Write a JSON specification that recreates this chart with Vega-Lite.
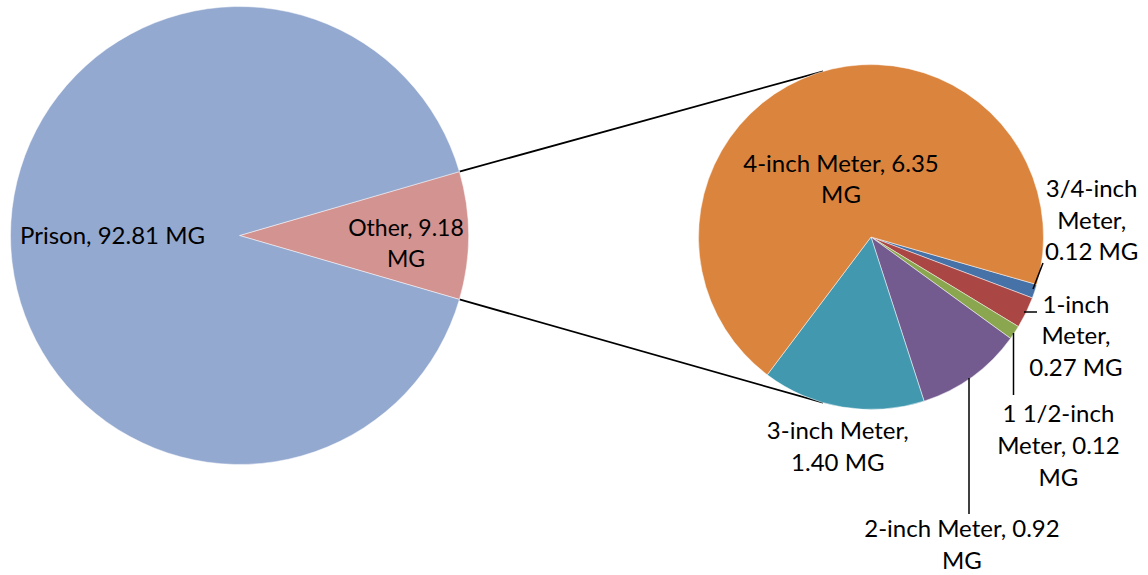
{
  "$schema": "https://vega.github.io/schema/vega-lite/v6.json",
  "width": 1148,
  "height": 575,
  "padding": 0,
  "autosize": {"type": "none"},
  "background": "white",
  "view": {"stroke": null},
  "params": [
    {"name": "cxL", "value": 239.5},
    {"name": "cyL", "value": 235.5},
    {"name": "rL", "value": 229},
    {"name": "cxR", "value": 871},
    {"name": "cyR", "value": 237},
    {"name": "rR", "value": 172.5},
    {"name": "half", "value": 0.2827},
    {"name": "rot", "value": 0.281}
  ],
  "datasets": {
    "main": [
      {"k": "Other", "v": 9.18, "rank": 1, "label": "Other, 9.18\nMG"},
      {"k": "Prison", "v": 92.81, "rank": 2, "label": "Prison, 92.81 MG"}
    ],
    "sub": [
      {"k": "3/4-inch Meter", "v": 0.12, "rank": 1, "label": "3/4-inch\nMeter,\n0.12 MG"},
      {"k": "1-inch Meter", "v": 0.27, "rank": 2, "label": "1-inch\nMeter,\n0.27 MG"},
      {"k": "1 1/2-inch Meter", "v": 0.12, "rank": 3, "label": "1 1/2-inch\nMeter, 0.12\nMG"},
      {"k": "2-inch Meter", "v": 0.92, "rank": 4, "label": "2-inch Meter, 0.92\nMG"},
      {"k": "3-inch Meter", "v": 1.40, "rank": 5, "label": "3-inch Meter,\n1.40 MG"},
      {"k": "4-inch Meter", "v": 6.35, "rank": 6, "label": "4-inch Meter, 6.35\nMG"}
    ]
  },
  "resolve": {"scale": {"theta": "independent"}},
  "layer": [
    {
      "data": {"values": [{}]},
      "mark": {"type": "rule", "color": "black", "strokeWidth": 1.8},
      "encoding": {
        "x": {"value": {"expr": "cxL + rL*cos(half)"}}, "y": {"value": {"expr": "cyL - rL*sin(half)"}},
        "x2": {"value": {"expr": "cxR - rR*sin(rot)"}}, "y2": {"value": {"expr": "cyR - rR*cos(rot)"}}
      }
    },
    {
      "data": {"values": [{}]},
      "mark": {"type": "rule", "color": "black", "strokeWidth": 1.8},
      "encoding": {
        "x": {"value": {"expr": "cxL + rL*cos(half)"}}, "y": {"value": {"expr": "cyL + rL*sin(half)"}},
        "x2": {"value": {"expr": "cxR - rR*sin(rot)"}}, "y2": {"value": {"expr": "cyR + rR*cos(rot)"}}
      }
    },
    {
      "data": {"name": "main"},
      "mark": {"type": "arc", "x": {"expr": "cxL"}, "y": {"expr": "cyL"}, "outerRadius": {"expr": "rL"}, "stroke": "white", "strokeWidth": 0.7, "strokeOpacity": 0.7},
      "encoding": {
        "theta": {"field": "v", "type": "quantitative", "stack": true, "scale": {"range": [1.2881, 7.5713]}},
        "order": {"field": "rank"},
        "color": {"field": "k", "type": "nominal", "legend": null,
          "scale": {"domain": ["Prison", "Other", "3/4-inch Meter", "1-inch Meter", "1 1/2-inch Meter", "2-inch Meter", "3-inch Meter", "4-inch Meter"],
                    "range": ["#94A9D0", "#D39391", "#4672A8", "#AA4643", "#8AA64F", "#735A8F", "#4298AF", "#DB843D"]}}
      }
    },
    {
      "data": {"name": "sub"},
      "mark": {"type": "arc", "x": {"expr": "cxR"}, "y": {"expr": "cyR"}, "outerRadius": {"expr": "rR"}, "stroke": "white", "strokeWidth": 0.7, "strokeOpacity": 0.7},
      "encoding": {
        "theta": {"field": "v", "type": "quantitative", "stack": true, "scale": {"range": [1.85, 8.1332]}},
        "order": {"field": "rank"},
        "color": {"field": "k", "type": "nominal", "legend": null,
          "scale": {"domain": ["Prison", "Other", "3/4-inch Meter", "1-inch Meter", "1 1/2-inch Meter", "2-inch Meter", "3-inch Meter", "4-inch Meter"],
                    "range": ["#94A9D0", "#D39391", "#4672A8", "#AA4643", "#8AA64F", "#735A8F", "#4298AF", "#DB843D"]}}
      }
    },
    {
      "data": {"values": [{}]},
      "mark": {"type": "rule", "color": "black", "strokeWidth": 1.5},
      "encoding": {
        "x": {"value": {"expr": "cxR + 162"}}, "y": {"value": {"expr": "cyR + 52"}},
        "x2": {"value": {"expr": "cxR + 172"}}, "y2": {"value": {"expr": "cyR + 26"}}
      }
    },
    {
      "data": {"values": [{}]},
      "mark": {"type": "rule", "color": "black", "strokeWidth": 1.5},
      "encoding": {
        "x": {"value": {"expr": "cxR + 153"}}, "y": {"value": {"expr": "cyR + 75"}},
        "x2": {"value": {"expr": "cxR + 166"}}, "y2": {"value": {"expr": "cyR + 75"}}
      }
    },
    {
      "data": {"values": [{}]},
      "mark": {"type": "rule", "color": "black", "strokeWidth": 1.5},
      "encoding": {
        "x": {"value": {"expr": "cxR + 142.5"}}, "y": {"value": {"expr": "cyR + 96"}},
        "x2": {"value": {"expr": "cxR + 142.5"}}, "y2": {"value": {"expr": "cyR + 158"}}
      }
    },
    {
      "data": {"values": [{}]},
      "mark": {"type": "rule", "color": "black", "strokeWidth": 1.5},
      "encoding": {
        "x": {"value": {"expr": "cxR + 98"}}, "y": {"value": {"expr": "cyR + 141"}},
        "x2": {"value": {"expr": "cxR + 98"}}, "y2": {"value": {"expr": "cyR + 277"}}
      }
    },
    {
      "data": {"name": "main"},
      "mark": {"type": "text", "x": {"expr": "cxL"}, "y": {"expr": "cyL"}, "radius": 127, "dy": 1.5, "font": "Lato", "fontSize": 24, "lineHeight": 31, "lineBreak": "\n", "align": "center", "baseline": "middle", "color": "black"},
      "encoding": {
        "theta": {"field": "v", "type": "quantitative", "stack": true, "scale": {"range": [1.2881, 7.5713]}},
        "order": {"field": "rank"},
        "text": {"condition": {"test": "datum.k === 'Prison'", "field": "label"}, "value": ""}
      }
    },
    {
      "data": {"name": "main"},
      "mark": {"type": "text", "x": {"expr": "cxL"}, "y": {"expr": "cyL"}, "radius": 166.5, "dy": -6.5, "font": "Lato", "fontSize": 23, "lineHeight": 31, "lineBreak": "\n", "align": "center", "baseline": "middle", "color": "black"},
      "encoding": {
        "theta": {"field": "v", "type": "quantitative", "stack": true, "scale": {"range": [1.2881, 7.5713]}},
        "order": {"field": "rank"},
        "text": {"condition": {"test": "datum.k === 'Other'", "field": "label"}, "value": ""}
      }
    },
    {
      "data": {"name": "sub"},
      "mark": {"type": "text", "x": {"expr": "cxR"}, "y": {"expr": "cyR"}, "radius": 63, "dx": -10, "dy": -12.5, "font": "Lato", "fontSize": 24, "lineHeight": 31, "lineBreak": "\n", "align": "center", "baseline": "middle", "color": "black"},
      "encoding": {
        "theta": {"field": "v", "type": "quantitative", "stack": true, "scale": {"range": [1.85, 8.1332]}},
        "order": {"field": "rank"},
        "text": {"condition": {"test": "datum.k === '4-inch Meter'", "field": "label"}, "value": ""}
      }
    },
    {
      "data": {"name": "sub"},
      "mark": {"type": "text", "x": {"expr": "cxR"}, "y": {"expr": "cyR"}, "radius": 204, "dx": 27, "dy": -111, "font": "Lato", "fontSize": 24, "lineHeight": 31.5, "lineBreak": "\n", "align": "center", "baseline": "middle", "color": "black"},
      "encoding": {
        "theta": {"field": "v", "type": "quantitative", "stack": true, "scale": {"range": [1.85, 8.1332]}},
        "order": {"field": "rank"},
        "text": {"condition": {"test": "datum.k === '3/4-inch Meter'", "field": "label"}, "value": ""}
      }
    },
    {
      "data": {"name": "sub"},
      "mark": {"type": "text", "x": {"expr": "cxR"}, "y": {"expr": "cyR"}, "radius": 228, "dy": -31, "font": "Lato", "fontSize": 24, "lineHeight": 31.5, "lineBreak": "\n", "align": "center", "baseline": "middle", "color": "black"},
      "encoding": {
        "theta": {"field": "v", "type": "quantitative", "stack": true, "scale": {"range": [1.85, 8.1332]}},
        "order": {"field": "rank"},
        "text": {"condition": {"test": "datum.k === '1-inch Meter'", "field": "label"}, "value": ""}
      }
    },
    {
      "data": {"name": "sub"},
      "mark": {"type": "text", "x": {"expr": "cxR"}, "y": {"expr": "cyR"}, "radius": 272, "dx": -39, "dy": 27, "font": "Lato", "fontSize": 24, "lineHeight": 32, "lineBreak": "\n", "align": "center", "baseline": "middle", "color": "black"},
      "encoding": {
        "theta": {"field": "v", "type": "quantitative", "stack": true, "scale": {"range": [1.85, 8.1332]}},
        "order": {"field": "rank"},
        "text": {"condition": {"test": "datum.k === '1 1/2-inch Meter'", "field": "label"}, "value": ""}
      }
    },
    {
      "data": {"name": "sub"},
      "mark": {"type": "text", "x": {"expr": "cxR"}, "y": {"expr": "cyR"}, "radius": 303, "dx": -87, "dy": 47.5, "font": "Lato", "fontSize": 24, "lineHeight": 32, "lineBreak": "\n", "align": "center", "baseline": "middle", "color": "black"},
      "encoding": {
        "theta": {"field": "v", "type": "quantitative", "stack": true, "scale": {"range": [1.85, 8.1332]}},
        "order": {"field": "rank"},
        "text": {"condition": {"test": "datum.k === '2-inch Meter'", "field": "label"}, "value": ""}
      }
    },
    {
      "data": {"name": "sub"},
      "mark": {"type": "text", "x": {"expr": "cxR"}, "y": {"expr": "cyR"}, "radius": 213, "dx": 2, "dy": -15, "font": "Lato", "fontSize": 24, "lineHeight": 32, "lineBreak": "\n", "align": "center", "baseline": "middle", "color": "black"},
      "encoding": {
        "theta": {"field": "v", "type": "quantitative", "stack": true, "scale": {"range": [1.85, 8.1332]}},
        "order": {"field": "rank"},
        "text": {"condition": {"test": "datum.k === '3-inch Meter'", "field": "label"}, "value": ""}
      }
    }
  ]
}
